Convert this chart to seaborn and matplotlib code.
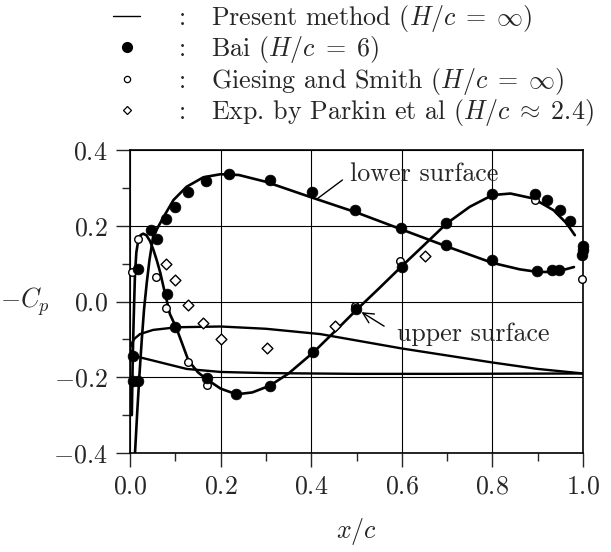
import matplotlib
matplotlib.use("Agg")
import matplotlib.pyplot as plt
from matplotlib.lines import Line2D
import seaborn as sns
import pandas as pd

# ---------------- data ----------------
lower_x = [0.011, 0.016, 0.021, 0.026, 0.031, 0.037, 0.043, 0.051, 0.062, 0.074,
           0.096, 0.125, 0.162, 0.20, 0.24, 0.30, 0.40, 0.50, 0.60, 0.70,
           0.80, 0.86, 0.90, 0.94, 0.98]
lower_y = [-0.40, -0.29, -0.19, -0.10, -0.02, 0.05, 0.11, 0.171, 0.197, 0.223,
           0.268, 0.303, 0.328, 0.336, 0.334, 0.316, 0.275, 0.235, 0.19, 0.145,
           0.102, 0.085, 0.078, 0.078, 0.091]

upper_x = [0.004, 0.006, 0.008, 0.011, 0.014, 0.018, 0.023, 0.029, 0.036, 0.044,
           0.052, 0.059, 0.067, 0.074, 0.081, 0.088, 0.103, 0.129, 0.15, 0.169,
           0.20, 0.235, 0.27, 0.309, 0.35, 0.405, 0.464, 0.50, 0.55, 0.598,
           0.65, 0.699, 0.75, 0.80, 0.84, 0.89, 0.935, 0.964, 0.982]
upper_y = [-0.30, -0.15, -0.05, 0.074, 0.13, 0.16, 0.175, 0.179, 0.175, 0.16,
           0.135, 0.109, 0.075, 0.038, 0.003, -0.033, -0.072, -0.156, -0.187, -0.205,
           -0.23, -0.245, -0.24, -0.222, -0.19, -0.134, -0.065, -0.022, 0.035, 0.091,
           0.15, 0.206, 0.25, 0.281, 0.285, 0.272, 0.241, 0.206, 0.175]

foil_top_x = [0.0, 0.003, 0.01, 0.022, 0.051, 0.103, 0.2, 0.3, 0.42, 0.6, 0.8, 0.9, 1.0]
foil_top_y = [-0.125, -0.112, -0.098, -0.086, -0.075, -0.068, -0.066, -0.072, -0.086,
              -0.124, -0.161, -0.178, -0.19]
foil_bot_x = [0.0, 0.007, 0.051, 0.125, 0.2, 0.3, 0.5, 0.7, 1.0]
foil_bot_y = [-0.125, -0.143, -0.156, -0.178, -0.186, -0.189, -0.191, -0.191, -0.19]

bai_x = [0.007, 0.007, 0.018, 0.018, 0.046, 0.059, 0.079, 0.081, 0.099, 0.099,
         0.129, 0.167, 0.169, 0.219, 0.235, 0.308, 0.309, 0.401, 0.405, 0.497,
         0.499, 0.598, 0.600, 0.698, 0.698, 0.798, 0.800, 0.894, 0.898, 0.920,
         0.932, 0.948, 0.949, 0.971, 0.997, 1.0, 1.0]
bai_y = [-0.143, -0.209, -0.209, 0.087, 0.188, 0.164, 0.217, 0.02, 0.25, -0.068,
         0.29, 0.319, -0.202, 0.336, -0.245, 0.32, -0.222, 0.29, -0.134, 0.241,
         -0.019, 0.194, 0.091, 0.206, 0.148, 0.283, 0.110, 0.285, 0.080, 0.269,
         0.082, 0.083, 0.241, 0.212, 0.122, 0.135, 0.147]

gs_x = [0.004, 0.018, 0.057, 0.079, 0.127, 0.169, 0.497, 0.596, 0.894, 0.997]
gs_y = [0.078, 0.164, 0.066, -0.018, -0.159, -0.22, -0.012, 0.107, 0.268, 0.060]

pk_x = [0.079, 0.099, 0.129, 0.162, 0.200, 0.303, 0.453, 0.651]
pk_y = [0.099, 0.056, -0.010, -0.056, -0.099, -0.122, -0.065, 0.119]

x_ticks = [0.0, 0.2, 0.4, 0.6, 0.8, 1.0]
y_ticks = [-0.4, -0.2, 0.0, 0.2, 0.4]
x_minor = [0.1, 0.3, 0.5, 0.7, 0.9]
y_minor = [-0.3, -0.1, 0.1, 0.3]

legend_labels = [r"Present method ($H/c\;=\;\infty$)",
                 r"Bai ($H/c\;=\;6$)",
                 r"Giesing and Smith ($H/c\;=\;\infty$)",
                 r"Exp. by Parkin et al ($H/c\;\approx\;2.4$)"]

# ---------------- style ----------------
sns.set_style("ticks")
plt.rcParams["font.family"] = ["cmr10", "DejaVu Serif"]
plt.rcParams["mathtext.fontset"] = "cm"
plt.rcParams["axes.formatter.use_mathtext"] = True
plt.rcParams["axes.unicode_minus"] = False
FS = 18.7      # all text

fig = plt.figure(figsize=(6.11, 5.52), dpi=100)
ax = fig.add_axes([0.2128, 0.1793, 0.7414, 0.5490])

LW = 1.9
def curve(xs, ys, lw=LW):
    df = pd.DataFrame({"x": xs, "y": ys})
    sns.lineplot(data=df, x="x", y="y", sort=False, estimator=None,
                 color="black", lw=lw, ax=ax)

curve(lower_x, lower_y)
curve(upper_x, upper_y)
curve(foil_top_x, foil_top_y, lw=1.7)
curve(foil_bot_x, foil_bot_y, lw=1.7)

sns.scatterplot(x=bai_x, y=bai_y, ax=ax, marker="o", s=60, color="black",
                edgecolor="black", linewidth=0.5, zorder=5, clip_on=False)
sns.scatterplot(x=gs_x, y=gs_y, ax=ax, marker="o", s=30, facecolor="white",
                edgecolor="black", linewidth=1.0, zorder=4, clip_on=False)
sns.scatterplot(x=pk_x, y=pk_y, ax=ax, marker="D", s=30, facecolor="white",
                edgecolor="black", linewidth=1.0, zorder=4, clip_on=False)

ax.set_xlim(0.0, 1.0)
ax.set_ylim(-0.4, 0.4)
ax.set_xticks(x_ticks)
ax.set_yticks(y_ticks)
ax.set_xticks(x_minor, minor=True)
ax.set_yticks(y_minor, minor=True)
ax.set_xticklabels([f"${v:.1f}$" for v in x_ticks], fontsize=FS)
ax.set_yticklabels([f"${v:.1f}$" for v in y_ticks], fontsize=FS)
ax.tick_params(which="major", direction="out", length=10, width=1.0, pad=6,
               top=False, right=False)
ax.tick_params(which="minor", direction="out", length=6, width=1.0)
ax.grid(True, which="major", color="black", lw=0.8)
for s in ax.spines.values():
    s.set_visible(True)
    s.set_linewidth(1.2)
    s.set_color("black")

ax.set_xlabel(r"$x/c$", fontsize=FS, labelpad=12)
ax.set_ylabel(r"$-C_p$", fontsize=FS, rotation=0, va="center", ha="center")
ax.yaxis.set_label_coords(-0.232, 0.5)

ax.annotate("lower surface", xy=(0.412, 0.270), xytext=(0.486, 0.336),
            fontsize=FS, ha="left", va="center",
            arrowprops=dict(arrowstyle="-", lw=1.0, color="black",
                            shrinkA=4, shrinkB=0, relpos=(0, 0.5)))
ax.annotate("upper surface", xy=(0.511, -0.028), xytext=(0.589, -0.086),
            fontsize=FS, ha="left", va="center",
            arrowprops=dict(arrowstyle="->", lw=1.0, color="black",
                            shrinkA=8, shrinkB=0, relpos=(0, 0.5)))

handles = [Line2D([], [], color="black", lw=1.0),
           Line2D([], [], ls="none", marker="o", ms=7, color="black"),
           Line2D([], [], ls="none", marker="o", ms=4.5, mfc="white", mec="black", mew=0.9),
           Line2D([], [], ls="none", marker="D", ms=4.5, mfc="white", mec="black", mew=0.9)]
labels = [":   " + t for t in legend_labels]
fig.legend(handles, labels, loc="upper left", bbox_to_anchor=(0.185, 0.995),
           frameon=False, fontsize=FS, handlelength=1.04, handletextpad=1.45,
           labelspacing=0.02, borderpad=0, borderaxespad=0)

fig.savefig("out.png", dpi=100)
